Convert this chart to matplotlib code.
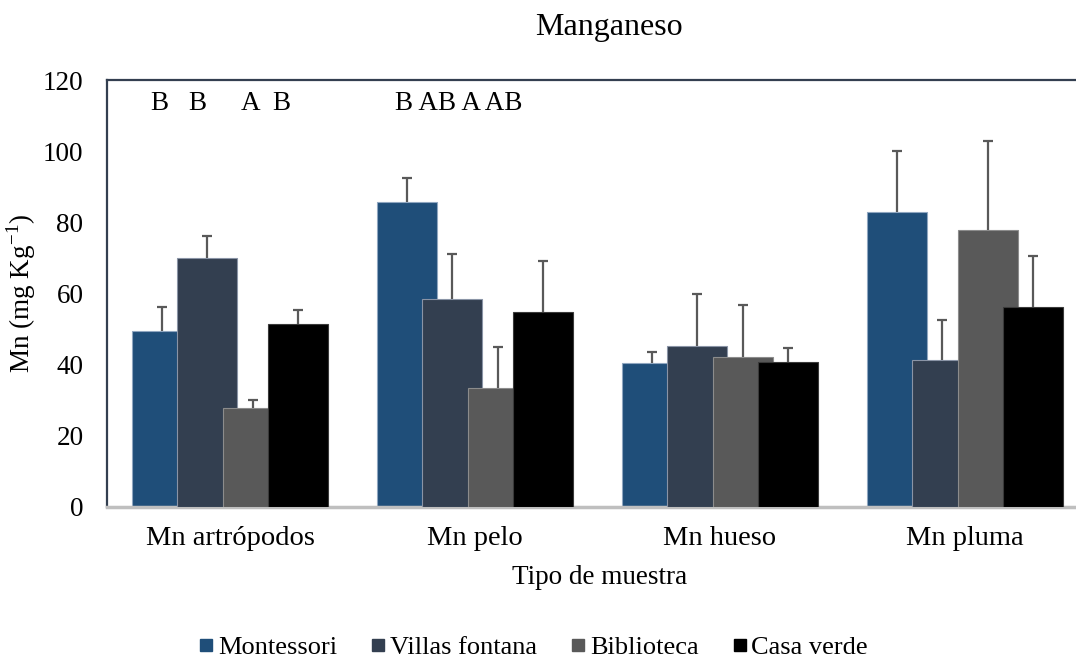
import numpy as np
import matplotlib.pyplot as plt
from matplotlib.lines import Line2D

plt.rcParams['font.family'] = ['Liberation Serif', 'DejaVu Serif']

categories = ["Mn artrópodos", "Mn pelo", "Mn hueso", "Mn pluma"]
series = ["Montessori", "Villas fontana", "Biblioteca", "Casa verde"]
montessori = [49.6, 85.6, 40.6, 82.8]
villas = [70.1, 58.5, 45.3, 41.4]
biblioteca = [27.8, 33.4, 42.2, 77.9]
casa_verde = [51.4, 54.9, 40.7, 56.1]
err_montessori = [6.7, 6.8, 3.0, 17.3]
err_villas = [6.1, 12.5, 14.7, 11.2]
err_biblioteca = [2.2, 11.5, 14.5, 25.0]
err_casa_verde = [4.0, 14.2, 4.1, 14.4]
letters_artropodos = ["B", "B", "A", "B"]
letters_pelo = "B AB A AB"

values = [montessori, villas, biblioteca, casa_verde]
errors = [err_montessori, err_villas, err_biblioteca, err_casa_verde]
colors = ["#1F4E79", "#333F50", "#595959", "#000000"]
edges = ["#8FA6C0", "#8A94A6", "#8C8C8C", "#3A3A3A"]

fig = plt.figure(figsize=(10.76, 6.6), dpi=100)
ax = fig.add_axes([107 / 1076, 1 - 507 / 660, 1 - 107 / 1076, 427 / 660])

x = np.arange(len(categories))
width = 0.245
step = 0.186
for i, (vals, errs) in enumerate(zip(values, errors)):
    pos = x + (i - 1.5) * step
    ax.bar(pos, vals, width=width, color=colors[i], edgecolor=edges[i],
           linewidth=0.8, zorder=2 + i)
    eb = ax.errorbar(pos, vals, yerr=[np.zeros(len(errs)), errs], fmt="none",
                     ecolor="#595959", elinewidth=1.6, capsize=3.8, capthick=1.6, zorder=10)
    eb[1][0].set_visible(False)  # only the upper cap

ax.set_xlim(-0.502, 3.453)
ax.set_ylim(0, 120)
ax.set_yticks(range(0, 121, 20))
ax.set_xticks(x)
ax.set_xticklabels(categories, fontsize=20.5)
ax.tick_params(axis="y", length=0, pad=17, labelsize=19.5)
ax.tick_params(axis="x", length=0, pad=14)

for s in ["left", "top"]:
    ax.spines[s].set_color("#333F50")
    ax.spines[s].set_linewidth(1.6)
ax.spines["right"].set_visible(False)
ax.spines["bottom"].set_color("#BFBFBF")
ax.spines["bottom"].set_linewidth(2.5)

# significance letters
letter_x = [-0.29, -0.135, 0.082, 0.208]
for lx, lt in zip(letter_x, letters_artropodos):
    ax.text(lx, 113.5, lt, ha="center", va="center", fontsize=19.5)
ax.text(0.935, 113.5, letters_pelo, ha="center", va="center", fontsize=19.5)

ax.set_ylabel("Mn (mg Kg$^{\\mathregular{-1}}$)", fontsize=19.5)
ax.yaxis.set_label_coords(-0.071, 0.5)
fig.text(609 / 1076, 1 - 27 / 660, "Manganeso", ha="center", va="center", fontsize=23)
fig.text(600 / 1076, 1 - 578 / 660, "Tipo de muestra", ha="center", va="center", fontsize=19.5)

handles = [Line2D([], [], marker="s", linestyle="none", markersize=9,
                  markerfacecolor=c, markeredgecolor=c) for c in colors]
fig.legend(handles, series, loc="center", bbox_to_anchor=(532 / 1076, 1 - 647 / 660),
           ncol=4, frameon=False, fontsize=19, handletextpad=0.05,
           columnspacing=1.15, handlelength=0.8)

fig.savefig("out.png", dpi=100)
